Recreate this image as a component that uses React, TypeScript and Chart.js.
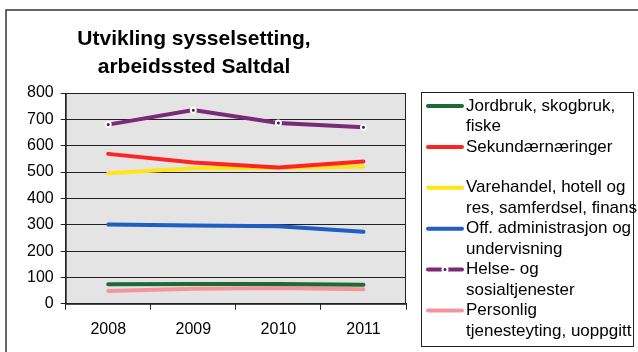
import React, { useEffect, useRef } from "react";
import { Chart, registerables } from "chart.js";

Chart.register(...registerables);

const titleLines = ["Utvikling sysselsetting,", "arbeidssted Saltdal"];
const years = ["2008", "2009", "2010", "2011"];

const seriesLabels = [
  ["Jordbruk, skogbruk,", "fiske"],
  ["Sekundærnæringer", ""],
  ["Varehandel, hotell og", "res, samferdsel, finans"],
  ["Off. administrasjon og", "undervisning"],
  ["Helse- og", "sosialtjenester"],
  ["Personlig", "tjenesteyting, uoppgitt"],
];

const jordbruk = [74, 75, 75, 72];
const sekundaer = [569, 536, 517, 540];
const varehandel = [495, 514, 515, 521];
const offentlig = [301, 297, 294, 273];
const helse = [680, 735, 686, 670];
const personlig = [49, 57, 60, 55];

const seriesValues = [jordbruk, sekundaer, varehandel, offentlig, helse, personlig];
const seriesColors = ["#1d6a33", "#ff2424", "#ffe418", "#1f5fc4", "#7a2a78", "#f4959d"];

const FONT = "'Liberation Sans', Arial, sans-serif";

const decorPlugin = {
  id: "decor",
  beforeDraw(chart: any) {
    const { ctx, chartArea } = chart;
    ctx.save();
    ctx.fillStyle = "#ffffff";
    ctx.fillRect(0, 0, chart.width, chart.height);
    ctx.fillStyle = "#e4e4e4";
    ctx.fillRect(chartArea.left, chartArea.top, chartArea.right - chartArea.left, chartArea.bottom - chartArea.top);
    ctx.restore();
  },
  afterDraw(chart: any) {
    const { ctx, chartArea } = chart;
    ctx.save();
    ctx.strokeStyle = "#222";
    ctx.lineWidth = 1;
    ctx.strokeRect(chartArea.left + 0.5, chartArea.top + 0.5, chartArea.right - chartArea.left - 1, chartArea.bottom - chartArea.top);
    ctx.strokeStyle = "#333";
    ctx.lineWidth = 1.5;
    ctx.beginPath();
    ctx.moveTo(638, 10);
    ctx.lineTo(6, 10);
    ctx.lineTo(6, 352);
    ctx.stroke();
    ctx.fillStyle = "#000";
    ctx.font = "bold 21px " + FONT;
    ctx.textAlign = "center";
    ctx.textBaseline = "middle";
    titleLines.forEach((t, i) => ctx.fillText(t, 194, 39 + i * 28));
    ctx.strokeStyle = "#222";
    ctx.lineWidth = 1;
    ctx.strokeRect(421.5, 92.5, 212, 254);
    ctx.font = "17px " + FONT;
    ctx.textAlign = "left";
    chart.data.datasets.forEach((ds: any, i: number) => {
      const y0 = 106 + i * 40.9;
      ctx.strokeStyle = ds.borderColor;
      ctx.lineWidth = 4;
      ctx.lineCap = "round";
      ctx.beginPath();
      ctx.moveTo(428, y0);
      ctx.lineTo(462, y0);
      ctx.stroke();
      if (ds.pointRadius > 0) {
        ctx.beginPath();
        ctx.arc(445, y0, 2.5, 0, Math.PI * 2);
        ctx.fillStyle = ds.pointBackgroundColor;
        ctx.fill();
        ctx.lineWidth = 2;
        ctx.strokeStyle = "#ffffff";
        ctx.stroke();
      }
      ctx.fillStyle = "#000";
      seriesLabels[i].forEach((line, j) => ctx.fillText(line, 466, y0 + j * 20.5));
    });
    ctx.restore();
  },
};

export default function App() {
  const ref = useRef<HTMLCanvasElement | null>(null);
  useEffect(() => {
    document.body.style.margin = "0";
    if (!ref.current) return;
    const chart = new Chart(ref.current, {
      type: "line",
      data: {
        labels: years,
        datasets: seriesValues.map((vals, i) => ({
          label: seriesLabels[i].join(" "),
          data: vals,
          borderColor: seriesColors[i],
          backgroundColor: seriesColors[i],
          borderWidth: 4,
          tension: 0,
          pointRadius: i === 4 ? 2.5 : 0,
          pointBackgroundColor: i === 4 ? "#4a1a44" : seriesColors[i],
          pointBorderColor: "#ffffff",
          pointBorderWidth: 2,
          borderCapStyle: "round" as const,
        })),
      },
      options: {
        responsive: false,
        animation: false,
        devicePixelRatio: 1,
        layout: { padding: { left: 20, right: 232, top: 93, bottom: 3 } },
        plugins: {
          legend: { display: false },
          title: { display: false },
          tooltip: { enabled: false },
        },
        scales: {
          x: {
            offset: true,
            grid: {
              offset: true,
              drawOnChartArea: false,
              tickLength: 6,
              color: "#222",
            },
            border: { color: "#222" },
            ticks: { color: "#000", font: { family: FONT, size: 16 }, padding: 10 },
          },
          y: {
            min: 0,
            max: 800,
            ticks: { stepSize: 100, color: "#000", font: { family: FONT, size: 16 }, padding: 7 },
            grid: { color: "#222", tickLength: 5 },
            border: { color: "#222" },
          },
        },
      },
      plugins: [decorPlugin],
    });
    return () => chart.destroy();
  }, []);
  return (
    <div style={{ position: "relative", width: 638, height: 352 }}>
      <canvas ref={ref} width={638} height={352} style={{ display: "block" }} />
    </div>
  );
}
